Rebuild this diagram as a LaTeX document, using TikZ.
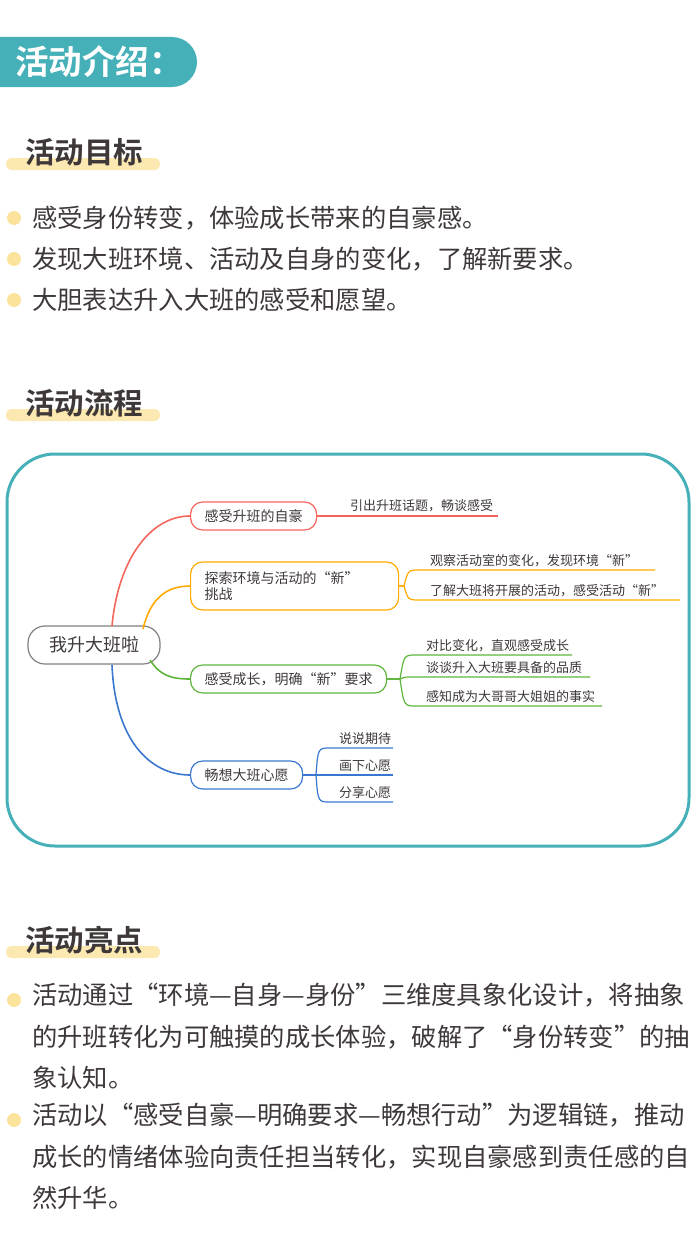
\documentclass[tikz,border=0pt]{standalone}
\usepackage{fontspec}
\setmainfont{Noto Sans CJK SC}
\newfontfamily\cjkbold{Noto Sans CJK SC Bold}
\definecolor{teal}{HTML}{45B0B8}
\definecolor{hilite}{HTML}{FCE9B2}
\definecolor{dotc}{HTML}{FCE39C}
\definecolor{ink}{HTML}{3F3838}
\definecolor{mred}{HTML}{F4665C}
\definecolor{morange}{HTML}{FFAA00}
\definecolor{mgreen}{HTML}{5DB53A}
\definecolor{mblue}{HTML}{3A78D0}
\tikzset{
  heading/.style={anchor=west,text=ink,font=\cjkbold\fontsize{29.5}{29.5}\selectfont,inner sep=0},
  para/.style={anchor=north west,align=left,text=ink,inner sep=0,font=\fontsize{25.3}{41.5}\selectfont},
  branch/.style={draw=#1,line width=1.2pt,rounded corners=12pt,anchor=west,align=left,
    text=ink,font=\fontsize{14}{16}\selectfont,inner xsep=14pt,minimum height=28pt},
  leaf/.style={anchor=south west,inner sep=2pt,text=ink,font=\fontsize{13}{13}\selectfont}
}
\begin{document}
\begin{tikzpicture}[x=1pt,y=-1pt]
\useasboundingbox (0,0) rectangle (700,1255);
% header
\fill[teal] (0,37) -- (172,37) arc[start angle=-90,end angle=90,radius=25] -- (0,87) -- cycle;
\node[anchor=west,text=white,font=\cjkbold\fontsize{33.5}{33.5}\selectfont,inner sep=0] (title) at (15,62) {活动介绍：};
% section headings
\foreach \y/\t in {152/活动目标,403/活动流程,940/活动亮点}{
  \fill[hilite,rounded corners=5pt] (6,\y+6) rectangle (160,\y+18);
  \node[heading] at (25,\y) {\t};
}
% goals
\foreach \y/\t in {218/感受身份转变，体验成长带来的自豪感。,259/发现大班环境、活动及自身的变化，了解新要求。,300/大胆表达升入大班的感受和愿望。}{
  \fill[dotc] (14,\y) circle (7);
  \node[anchor=west,text=ink,inner sep=0,font=\fontsize{25.3}{25.3}\selectfont] at (32,\y) {\t};
}
% mind map frame
\draw[teal,line width=3pt,rounded corners=48pt] (7,454) rectangle (689,846);
\node[draw=gray,line width=1.2pt,rounded corners=17pt,minimum width=132pt,minimum height=38pt,
  text=ink,font=\fontsize{18}{18}\selectfont] (root) at (94,645) {我升大班啦};
\node[branch=mred] (b1) at (190,516) {感受升班的自豪};
\node[branch=morange,minimum height=48pt,text width=180pt,inner xsep=14pt] (b2) at (190,586) {探索环境与活动的“新”\\挑战};
\node[branch=mgreen] (b3) at (190,679) {感受成长，明确“新”要求};
\node[branch=mblue] (b4) at (190,775) {畅想大班心愿};
\draw[mred,line width=1.6pt] (112,626) .. controls (118,560) and (150,516) .. (b1.west);
\draw[morange,line width=1.6pt] (143,629) .. controls (150,600) and (165,586) .. (b2.west);
\draw[mgreen,line width=1.6pt] (150,660) .. controls (160,675) and (170,679) .. (b3.west);
\draw[mblue,line width=1.6pt] (112,665) .. controls (115,740) and (150,775) .. (b4.west);
% leaves
\draw[mred,line width=1.2pt] (b1.east) -- (498,516);
\node[leaf] at (348,514) {引出升班话题，畅谈感受};
\foreach \y/\e/\t in {570/655/观察活动室的变化，发现环境“新”,600/680/了解大班将开展的活动，感受活动“新”}{
  \draw[morange,line width=1.2pt] (b2.east) -- (404,586) .. controls (408,\y) .. (420,\y) -- (\e,\y);
  \node[leaf] at (428,\y-1) {\t};
}
\foreach \y/\e/\t in {655/572/对比变化，直观感受成长,677/590/谈谈升入大班要具备的品质,706/602/感知成为大哥哥大姐姐的事实}{
  \draw[mgreen,line width=1.2pt] (b3.east) -- (400,679) .. controls (404,\y) .. (416,\y) -- (\e,\y);
  \node[leaf] at (424,\y-1) {\t};
}
\foreach \y/\t in {748/说说期待,775/画下心愿,802/分享心愿}{
  \draw[mblue,line width=1.2pt] (b4.east) -- (316,775) .. controls (318,\y) .. (330,\y) -- (393,\y);
  \node[leaf] at (337,\y-1) {\t};
}
% highlights
\fill[dotc] (14,1000) circle (7);
\fill[dotc] (14,1120) circle (7);
\node[para] (h1) at (32,983) {活动通过“环境—自身—身份”三维度具象化设计，将抽象\\的升班转化为可触摸的成长体验，破解了“身份转变”的抽\\象认知。};
\node[para] (h2) at (32,1103) {活动以“感受自豪—明确要求—畅想行动”为逻辑链，推动\\成长的情绪体验向责任担当转化，实现自豪感到责任感的自\\然升华。};
\end{tikzpicture}
\end{document}
